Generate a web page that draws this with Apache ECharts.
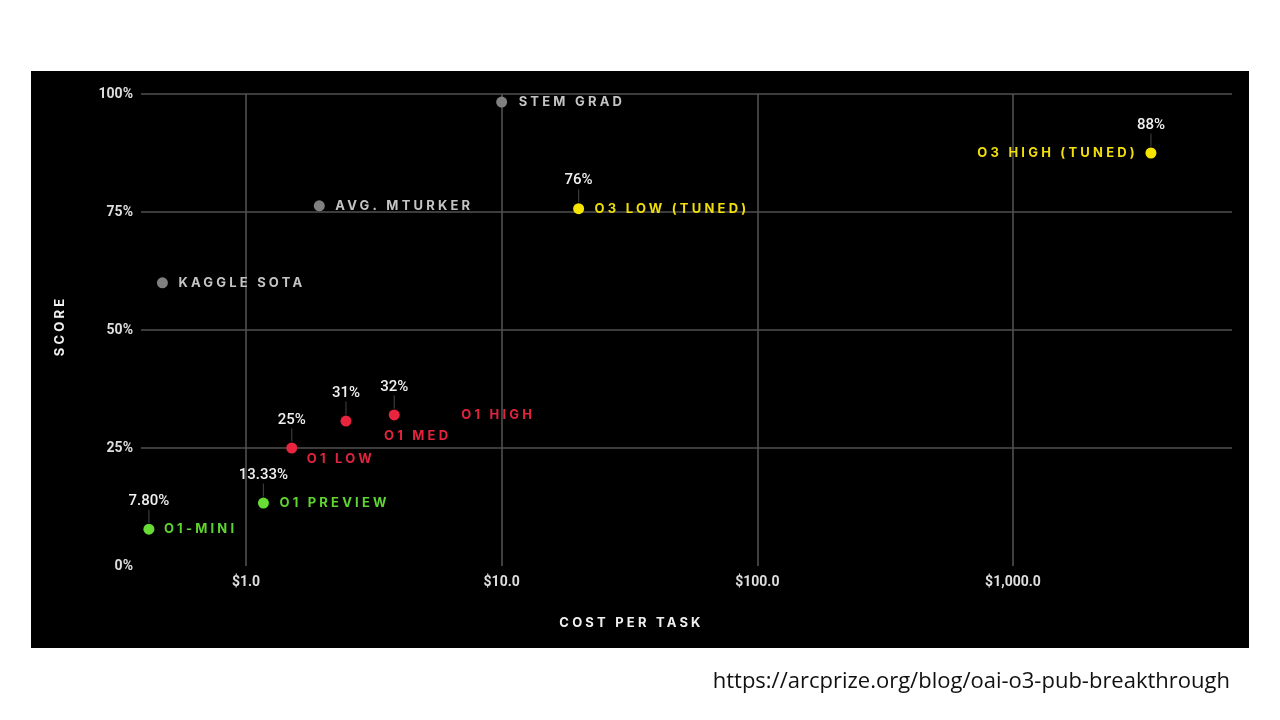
<!DOCTYPE html>
<html>
<head>
<meta charset="utf-8">
<script src="https://cdn.jsdelivr.net/npm/echarts@6/dist/echarts.min.js"></script>
<style>
html,body{margin:0;padding:0;background:#ffffff;}
#c{width:1280px;height:720px;}
</style>
</head>
<body>
<div id="c"></div>
<script>
// ---------------- data ----------------
const names = ['O1-MINI', 'O1 PREVIEW', 'O1 LOW', 'O1 MED', 'O1 HIGH',
               'KAGGLE SOTA', 'AVG. MTURKER', 'STEM GRAD',
               'O3 LOW (TUNED)', 'O3 HIGH (TUNED)'];
const costs = [0.417, 1.17, 1.51, 2.46, 3.80, 0.471, 1.935, 10.0, 20.0, 3465];
const scores = [7.8, 13.33, 25, 30.7, 32, 60, 76.3, 98.3, 75.7, 87.5];
const pctLabels = ['7.80%', '13.33%', '25%', '31%', '32%', '', '', '', '76%', '88%'];
const groups = ['green', 'green', 'red', 'red', 'red', 'gray', 'gray', 'gray', 'yellow', 'yellow'];
const xTicks = [1, 10, 100, 1000];
const xTickLabels = ['$1.0', '$10.0', '$100.0', '$1,000.0'];
const yTicks = [0, 25, 50, 75, 100];
const yTickLabels = ['0%', '25%', '50%', '75%', '100%'];
const sourceText = 'https://arcprize.org/blog/oai-o3-pub-breakthrough';

// ---------------- styles ----------------
const groupStyle = {
  green:  { dot: '#66dc35', text: '#5fd530' },
  red:    { dot: '#e8243f', text: '#e0243e' },
  gray:   { dot: '#808080', text: '#c4c4c4' },
  yellow: { dot: '#f7e500', text: '#f0de0a' }
};
// label offset from point centre [dx, dy], alignment
const labelPlace = {
  'O1-MINI': [15, 0, 'left'],
  'O1 PREVIEW': [16, 0, 'left'],
  'O1 LOW': [15, 11, 'left'],
  'O1 MED': [38, 15, 'left'],
  'O1 HIGH': [67, 0, 'left'],
  'KAGGLE SOTA': [16, 0, 'left'],
  'AVG. MTURKER': [16, 0, 'left'],
  'STEM GRAD': [17, 0, 'left'],
  'O3 LOW (TUNED)': [16, 0, 'left'],
  'O3 HIGH (TUNED)': [-13, 0, 'right']
};

// letter-spaced label font (Inter is used only for the spaced caps labels)
(function () {
  const P = CanvasRenderingContext2D.prototype;
  if (!('letterSpacing' in P)) return;
  const apply = (ctx) => { ctx.letterSpacing = /Inter/.test(ctx.font) ? '3.2px' : '0px'; };
  const f = P.fillText, s = P.strokeText, m = P.measureText;
  P.fillText = function () { apply(this); return f.apply(this, arguments); };
  P.strokeText = function () { apply(this); return s.apply(this, arguments); };
  P.measureText = function () { apply(this); return m.apply(this, arguments); };
})();

const idx = names.map((_, i) => i);

function groupSeries(g) {
  return {
    type: 'scatter',
    z: 4,
    symbol: 'circle',
    symbolSize: 11,
    itemStyle: { color: groupStyle[g].dot, opacity: 1 },
    data: idx.filter(i => groups[i] === g).map(i => {
      const p = labelPlace[names[i]];
      return {
        name: names[i],
        value: [costs[i], scores[i]],
        label: {
          show: true,
          position: 'inside',
          align: p[2],
          verticalAlign: 'middle',
          offset: [p[0], p[1]],
          formatter: '{b}',
          fontFamily: 'Inter',
          fontWeight: 'bold',
          fontSize: 13,
          color: groupStyle[g].text
        }
      };
    })
  };
}

const pctIdx = idx.filter(i => pctLabels[i] !== '');

const option = {
  backgroundColor: '#ffffff',
  animation: false,
  graphic: {
    elements: [
      { type: 'rect', z: -100, shape: { x: 31, y: 71, width: 1218, height: 577 }, style: { fill: '#000000' } },
      { type: 'text', z: 10, x: 1230, y: 682,
        style: { text: sourceText, fill: '#111111', font: '22px "Open Sans", sans-serif', textAlign: 'right', textVerticalAlign: 'middle' } }
    ]
  },
  grid: { left: 141, right: 48, top: 94, bottom: 154, containLabel: false },
  xAxis: {
    type: 'log',
    logBase: 10,
    min: 0.3884,
    max: 7190,
    name: 'COST PER TASK',
    nameLocation: 'middle',
    nameGap: 49,
    nameTextStyle: { fontFamily: 'Inter', fontWeight: 'bold', fontSize: 13, color: '#f0f0f0', padding: [0, 110, 0, 0] },
    axisLine: { show: false },
    axisTick: { show: false },
    splitLine: { show: false },
    axisLabel: {
      margin: 9,
      fontFamily: 'Roboto',
      fontWeight: 'bold',
      fontSize: 14,
      color: '#dedede',
      formatter: function (v) {
        for (let k = 0; k < xTicks.length; k++) {
          if (Math.abs(Math.log10(v) - Math.log10(xTicks[k])) < 1e-6) return xTickLabels[k];
        }
        return '';
      }
    }
  },
  yAxis: {
    type: 'value',
    min: 0,
    max: 100,
    interval: 25,
    name: 'SCORE',
    nameLocation: 'middle',
    nameGap: 73,
    nameTextStyle: { fontFamily: 'Inter', fontWeight: 'bold', fontSize: 13, color: '#f0f0f0', padding: [0, 0, 0, 8] },
    axisLine: { show: false },
    axisTick: { show: false },
    splitLine: { show: true, lineStyle: { color: ['rgba(0,0,0,0)', '#505050', '#505050', '#505050', '#505050'], width: 1.6 } },
    axisLabel: {
      margin: 8,
      fontFamily: 'Roboto',
      fontWeight: 'bold',
      fontSize: 14,
      color: '#dedede',
      formatter: function (v) {
        const k = yTicks.indexOf(v);
        return k >= 0 ? yTickLabels[k] : '';
      }
    }
  },
  series: [
    {
      // vertical grid lines at the labelled cost ticks
      type: 'scatter',
      z: 1,
      data: [],
      markLine: {
        silent: true,
        z: 1,
        symbol: 'none',
        label: { show: false },
        lineStyle: { color: '#505050', width: 1.6, type: 'solid', opacity: 1 },
        data: xTicks.map(t => ({ xAxis: t }))
      }
    },
    {
      // thin leader lines from the score labels to the points
      type: 'scatter',
      z: 2,
      symbol: 'rect',
      symbolSize: [1.2, 13],
      symbolOffset: [0, -13],
      itemStyle: { color: '#3a3a3a', opacity: 1 },
      silent: true,
      data: pctIdx.map(i => [costs[i], scores[i]])
    },
    groupSeries('gray'),
    groupSeries('green'),
    groupSeries('red'),
    groupSeries('yellow'),
    {
      // score labels above the points
      type: 'scatter',
      z: 5,
      symbolSize: 10,
      silent: true,
      itemStyle: { color: 'rgba(0,0,0,0)', opacity: 1 },
      label: {
        show: true,
        position: 'inside',
        offset: [0, -28],
        fontFamily: 'Roboto',
        fontWeight: 500,
        fontSize: 15,
        color: '#f0f0f0',
        formatter: function (p) { return p.name; }
      },
      data: pctIdx.map(i => ({ name: pctLabels[i], value: [costs[i], scores[i]] }))
    }
  ]
};

const chart = echarts.init(document.getElementById('c'), null, { renderer: 'canvas' });
chart.setOption(option);
</script>
</body>
</html>
